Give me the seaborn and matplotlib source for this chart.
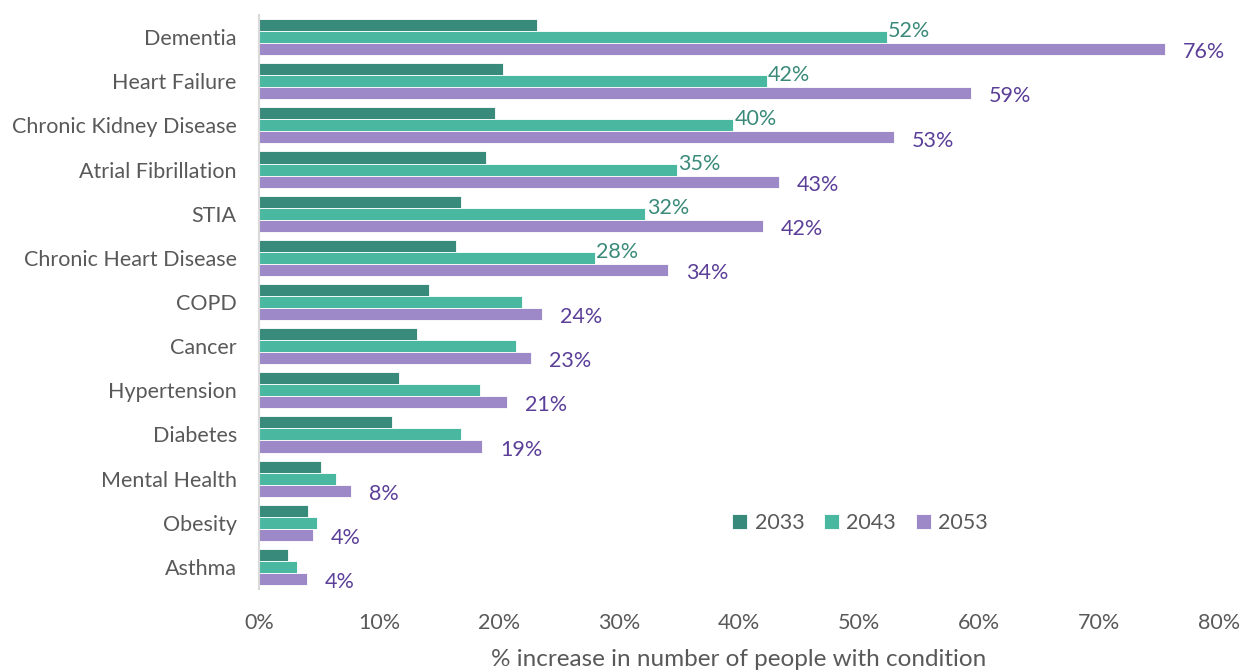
import matplotlib
matplotlib.use("Agg")
import matplotlib.pyplot as plt
import seaborn as sns
import pandas as pd

categories = ["Dementia", "Heart Failure", "Chronic Kidney Disease", "Atrial Fibrillation",
              "STIA", "Chronic Heart Disease", "COPD", "Cancer", "Hypertension",
              "Diabetes", "Mental Health", "Obesity", "Asthma"]
years = ["2033", "2043", "2053"]
v2033 = [23.2, 20.3, 19.7, 18.9, 16.8, 16.4, 14.2, 13.2, 11.7, 11.1, 5.2, 4.1, 2.4]
v2043 = [52.3, 42.3, 39.5, 34.8, 32.2, 28.0, 21.9, 21.4, 18.4, 16.8, 6.4, 4.8, 3.2]
v2053 = [75.5, 59.3, 52.9, 43.3, 42.0, 34.1, 23.6, 22.7, 20.7, 18.6, 7.7, 4.5, 4.0]
labels2043 = ["52%", "42%", "40%", "35%", "32%", "28%", "", "", "", "", "", "", ""]
labels2053 = ["76%", "59%", "53%", "43%", "42%", "34%", "24%", "23%", "21%", "19%", "8%", "4%", "4%"]
xticks = [0, 10, 20, 30, 40, 50, 60, 70, 80]

colors = ["#388a7a", "#4ab8a0", "#9d89c7"]

sns.set_theme(style="white")
plt.rcParams["font.family"] = ["Lato", "DejaVu Sans"]

df = pd.DataFrame({
    "cat": categories * 3,
    "year": [y for y in years for _ in categories],
    "val": v2033 + v2043 + v2053,
})

fig = plt.figure(figsize=(12.4, 6.71), dpi=100)
ax = fig.add_axes([259 / 1240, 1 - 589 / 671, 960 / 1240, 574 / 671])

sns.barplot(data=df, y="cat", x="val", hue="year", orient="h", palette=colors,
            width=0.82, ax=ax, edgecolor="white", linewidth=0.6, saturation=1)

conts = ax.containers
fs = 15.5
ann43 = ax.bar_label(conts[1], labels=labels2043, padding=1, color="#3a8a7a", fontsize=fs)
ann53 = ax.bar_label(conts[2], labels=labels2053, padding=13, color="#5b3f98", fontsize=fs)
for t in ann43:
    t.xyann = (1, 4.3)
for t in ann53:
    t.xyann = (13, -2.2)

ax.set_xlim(0, 80)
ax.set_ylim(len(categories) - 0.5, -0.5)
ax.set_xticks(xticks)
ax.set_xticklabels([f"{t}%" for t in xticks])
ax.tick_params(axis="both", length=0, labelsize=fs, labelcolor="#595959")
ax.tick_params(axis="x", pad=17)
ax.tick_params(axis="y", pad=16)
ax.set_ylabel("")
ax.set_xlabel("% increase in number of people with condition", fontsize=17.5,
              color="#595959", labelpad=12)

for s in ["top", "right", "bottom"]:
    ax.spines[s].set_visible(False)
ax.spines["left"].set_color("#d9d9d9")
ax.spines["left"].set_linewidth(1.5)

leg = ax.legend(loc="center", bbox_to_anchor=(0.626, 0.115), ncol=3, frameon=False,
                fontsize=fs, handlelength=0.7, handleheight=0.7, handletextpad=0.35,
                columnspacing=0.9)
for t in leg.get_texts():
    t.set_color("#595959")

fig.savefig("out.png", dpi=100)
